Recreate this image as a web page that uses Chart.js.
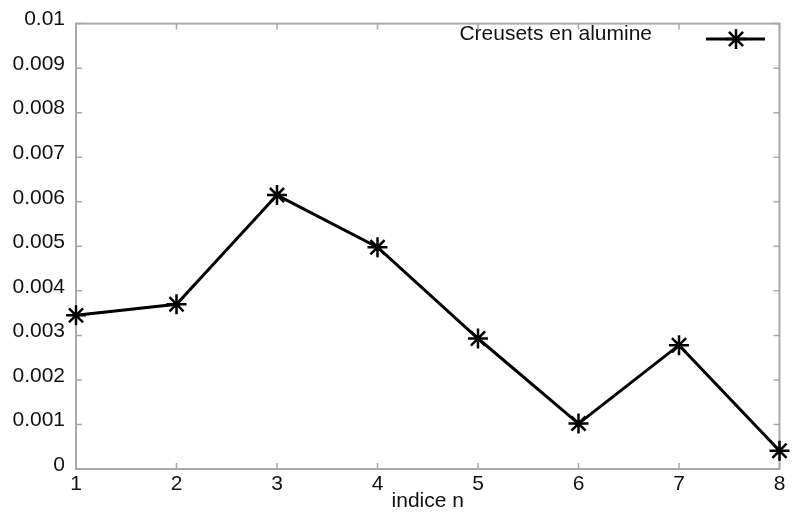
<!DOCTYPE html>
<html lang="fr">
<head>
<meta charset="UTF-8" />
<title>Creusets en alumine</title>
<script src="https://cdn.jsdelivr.net/npm/chart.js"></script>
<style>
  html, body { margin: 0; padding: 0; background: #fff; }
  #wrap { width: 792px; height: 515px; }
</style>
</head>
<body>
<div id="wrap"><canvas id="chart" width="792" height="515"></canvas></div>
<script>
  // valeurs
  const indices = [1, 2, 3, 4, 5, 6, 7, 8];
  const valeurs = [0.00345, 0.0037, 0.00615, 0.00498, 0.00293, 0.00102, 0.00278, 0.00041];
  const serieLabel = 'Creusets en alumine';
  const axeX = 'indice n';

  const police = '"Liberation Sans", Arial, sans-serif';
  const gris = '#a9a9a9';
  const encre = '#111';

  // cadre + graduations vers l'intérieur (style gnuplot)
  const cadre = {
    id: 'cadre',
    beforeDatasetsDraw(chart) {
      const { ctx, chartArea: a, scales: { x, y } } = chart;
      ctx.save();
      ctx.strokeStyle = gris;
      ctx.lineWidth = 2;
      ctx.strokeRect(a.left, a.top, a.right - a.left, a.bottom - a.top);
      ctx.lineWidth = 1.5;
      ctx.beginPath();
      x.ticks.forEach(t => {
        const px = x.getPixelForValue(t.value);
        ctx.moveTo(px, a.bottom); ctx.lineTo(px, a.bottom - 6);
        ctx.moveTo(px, a.top); ctx.lineTo(px, a.top + 6);
      });
      y.ticks.forEach(t => {
        const py = y.getPixelForValue(t.value);
        ctx.moveTo(a.left, py); ctx.lineTo(a.left + 6, py);
        ctx.moveTo(a.right, py); ctx.lineTo(a.right - 6, py);
      });
      ctx.stroke();
      ctx.restore();
    }
  };

  // légende dans le cadre, texte puis symbole
  const legende = {
    id: 'legende',
    afterDatasetsDraw(chart) {
      const ctx = chart.ctx;
      ctx.save();
      ctx.fillStyle = encre;
      ctx.font = '21px ' + police;
      ctx.textAlign = 'right';
      ctx.textBaseline = 'middle';
      ctx.fillText(serieLabel, 652, 34);
      ctx.strokeStyle = '#000';
      ctx.lineWidth = 3;
      ctx.beginPath();
      ctx.moveTo(706, 39); ctx.lineTo(765, 39);
      ctx.stroke();
      const cx = 736, cy = 39, r = 10;
      ctx.lineWidth = 2.5;
      ctx.beginPath();
      for (let k = 0; k < 4; k++) {
        const ang = k * Math.PI / 4;
        ctx.moveTo(cx - r * Math.cos(ang), cy - r * Math.sin(ang));
        ctx.lineTo(cx + r * Math.cos(ang), cy + r * Math.sin(ang));
      }
      ctx.stroke();
      ctx.restore();
    }
  };

  new Chart(document.getElementById('chart').getContext('2d'), {
    type: 'line',
    data: {
      datasets: [{
        label: serieLabel,
        data: indices.map((n, i) => ({ x: n, y: valeurs[i] })),
        borderColor: '#000',
        backgroundColor: '#000',
        borderWidth: 3,
        pointStyle: 'star',
        pointRadius: 10,
        pointBorderWidth: 2.5,
        pointBorderColor: '#000',
        tension: 0,
        fill: false,
        clip: false
      }]
    },
    options: {
      responsive: false,
      animation: false,
      layout: { padding: { top: 21, right: 8, left: 0, bottom: 0 } },
      plugins: {
        legend: { display: false },
        tooltip: { enabled: false }
      },
      scales: {
        x: {
          type: 'linear',
          min: 1,
          max: 8,
          grid: { display: false, drawTicks: false },
          border: { display: false },
          ticks: {
            stepSize: 1,
            padding: 3,
            color: encre,
            font: { family: police, size: 21 }
          },
          title: {
            display: true,
            text: axeX,
            color: encre,
            font: { family: police, size: 21 },
            padding: { top: 0, bottom: 1 }
          },
          afterFit(s) { s.height = 46; }
        },
        y: {
          min: 0,
          max: 0.01,
          grid: { display: false, drawTicks: false },
          border: { display: false },
          ticks: {
            stepSize: 0.001,
            padding: 11,
            labelOffset: -4,
            color: encre,
            font: { family: police, size: 21 },
            callback: v => String(Number(v.toFixed(3)))
          },
          afterFit(s) { s.width = 76; }
        }
      }
    },
    plugins: [cadre, legende]
  });
</script>
</body>
</html>
